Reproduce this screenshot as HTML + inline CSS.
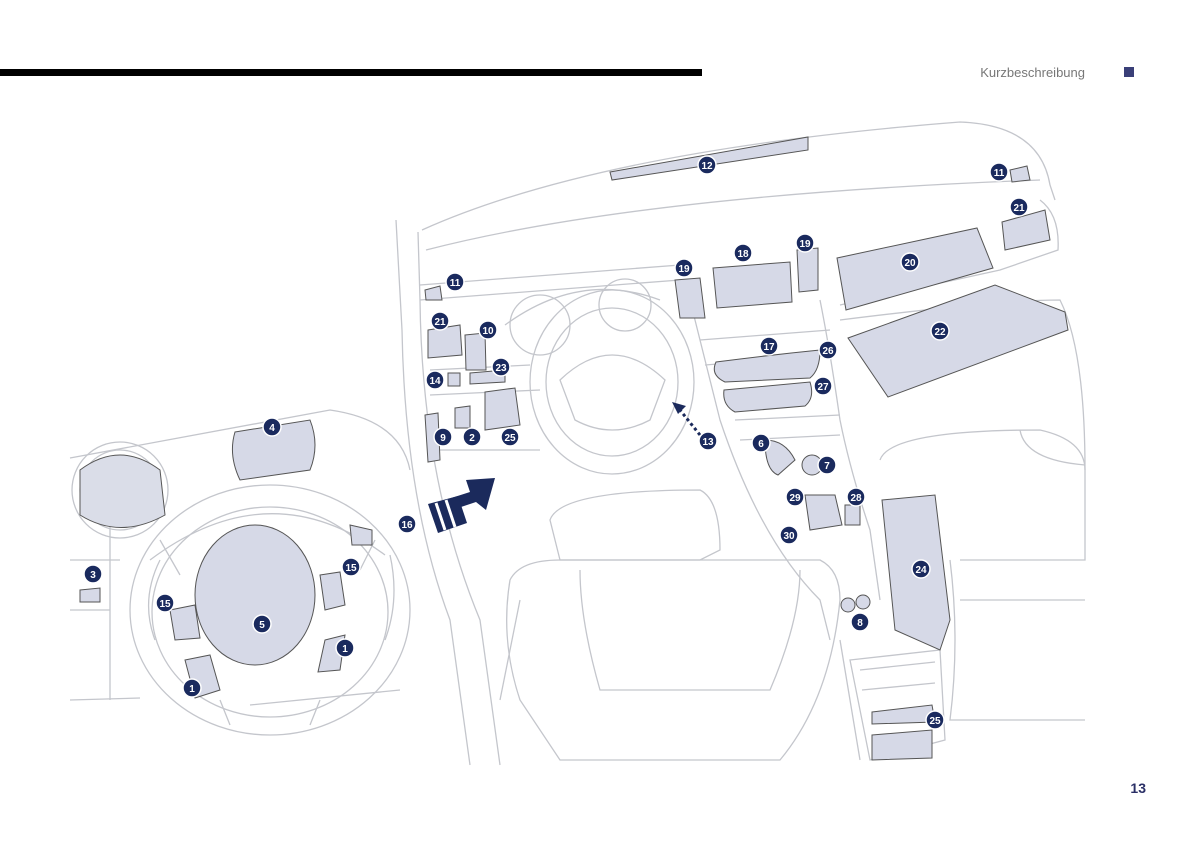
<!DOCTYPE html>
<html><head><meta charset="utf-8"><style>
body{margin:0;background:#fff;}
svg{display:block;font-family:"Liberation Sans",sans-serif;}
</style></head><body>
<svg width="1191" height="845" viewBox="0 0 1191 845" xmlns="http://www.w3.org/2000/svg">
<rect x="0" y="69" width="702" height="7" fill="#000"/>
<text x="1085" y="77" font-size="13" fill="#777" text-anchor="end">Kurzbeschreibung</text>
<rect x="1124" y="67" width="10" height="10" fill="#3a3f78"/>
<text x="1146" y="793" font-size="14" font-weight="bold" fill="#2a2f66" text-anchor="end">13</text>

<g fill="none" stroke="#c4c6cc" stroke-width="1.3">
<!-- dashboard top -->
<path d="M422 230 Q600 150 960 122 Q1040 125 1050 185 L1055 200"/>
<path d="M426 250 Q640 195 1040 180"/>
<path d="M396 220 L402 330 Q405 500 450 620 L470 765"/>
<path d="M418 232 L420 300 Q422 480 480 620 L500 765"/>
<path d="M420 285 L680 265 M420 300 L680 280"/>
<path d="M1040 200 Q1060 215 1058 250 L1000 270 L840 305"/>
<path d="M840 320 Q1000 300 1060 300 Q1085 350 1085 470"/>
<path d="M430 370 L530 365 M430 450 L540 450 M430 395 L540 390"/>
<!-- center console -->
<path d="M690 300 Q700 340 720 420 Q760 540 820 600 L830 640"/>
<path d="M820 300 Q830 350 840 420 Q850 470 870 530 L880 600"/>
<path d="M700 340 L830 330 M705 365 L830 355"/>
<path d="M735 420 L840 415 M740 440 L840 435"/>
<!-- instrument cluster -->
<path d="M505 325 Q580 270 660 300"/>
<circle cx="540" cy="325" r="30"/><circle cx="625" cy="305" r="26"/>
<!-- steering wheel small -->
<ellipse cx="612" cy="382" rx="82" ry="92"/>
<ellipse cx="612" cy="382" rx="66" ry="74"/>
<path d="M560 380 Q612 330 665 380 L650 420 Q612 440 575 420 Z"/>
<!-- seats -->
<path d="M550 520 Q560 490 700 490 Q720 500 720 550 L700 560 Q610 560 560 560 Z"/>
<path d="M510 580 Q500 640 520 700 L560 760 L780 760 Q830 700 840 600 Q840 570 820 560 L560 560 Q520 560 510 580Z"/>
<path d="M580 570 Q580 620 600 690 L770 690 Q800 620 800 570"/>
<path d="M880 460 Q890 430 1040 430 Q1085 440 1085 470 L1085 560 L960 560"/>
<path d="M950 560 Q960 640 950 720 L1085 720 M960 600 L1085 600"/>
<path d="M1020 430 Q1025 460 1085 465"/>
<path d="M520 600 Q510 650 500 700 M840 640 L860 760"/>
<!-- rear console -->
<path d="M850 660 L940 650 L945 740 L870 760 Z"/>
<path d="M860 670 L935 662 M862 690 L935 683"/>
<!-- left inset -->
<path d="M70 458 L330 410 Q400 420 410 470"/>
<path d="M70 700 L140 698 M250 705 L400 690"/>
<circle cx="120" cy="490" r="48"/><circle cx="120" cy="490" r="40"/>
<ellipse cx="270" cy="610" rx="140" ry="125"/>
<ellipse cx="270" cy="612" rx="118" ry="105"/>
<path d="M150 560 Q270 470 385 555 M160 540 L180 575 M375 540 L360 570"/>
<path d="M110 520 L110 700 M70 560 L120 560 M70 610 L110 610"/>
<path d="M160 560 Q140 600 155 640 M390 555 Q400 600 385 640"/>
<path d="M220 700 L230 725 M320 700 L310 725"/>
</g>
<!-- shaded parts -->
<g fill="#d6d9e7" stroke="#555" stroke-width="1">
<path d="M610 172 L808 137 L808 150 L612 180 Z"/>
<path d="M713 268 L790 262 L792 302 L717 308 Z"/>
<path d="M675 280 L700 278 L705 318 L680 318 Z"/>
<path d="M797 250 L818 248 L818 290 L799 292 Z"/>
<path d="M837 258 L977 228 L993 268 L846 310 Z"/>
<path d="M848 338 L995 285 L1065 312 L1068 330 L888 397 Z"/>
<path d="M1002 222 L1045 210 L1050 240 L1005 250 Z"/>
<path d="M1010 170 L1027 166 L1030 180 L1012 182 Z"/>
<path d="M716 362 Q770 355 820 350 Q820 370 810 378 L725 382 Q710 375 716 362Z"/>
<path d="M724 390 L810 382 Q815 398 805 406 L735 412 Q722 405 724 390Z"/>
<path d="M425 290 L440 286 L442 300 L426 300 Z"/>
<path d="M428 330 L460 325 L462 355 L428 358 Z"/>
<path d="M465 335 L485 333 L486 370 L466 370 Z"/>
<path d="M470 373 L505 370 L505 382 L470 384 Z"/>
<path d="M485 392 L515 388 L520 425 L485 430 Z"/>
<path d="M455 408 L470 406 L470 428 L455 428 Z"/>
<path d="M425 415 L438 413 L440 460 L428 462 Z"/>
<path d="M448 373 L460 373 L460 386 L448 386 Z"/>
<path d="M765 440 Q785 440 795 460 L778 475 Q765 470 765 440Z"/>
<circle cx="812" cy="465" r="10"/>
<path d="M805 495 L835 495 L842 525 L810 530 Z"/>
<path d="M845 505 L860 505 L860 525 L845 525 Z"/>
<path d="M882 500 L935 495 L950 620 L940 650 L895 630 Z"/>
<circle cx="848" cy="605" r="7"/><circle cx="863" cy="602" r="7"/>
<path d="M872 712 L932 705 L935 722 L872 724 Z"/>
<path d="M872 735 L932 730 L932 758 L872 760 Z"/>
<path d="M80 470 Q120 440 160 470 L165 515 Q120 540 80 515Z" fill="#dadde8"/>
<path d="M235 432 L310 420 Q320 445 310 470 L240 480 Q228 455 235 432Z"/>
<ellipse cx="255" cy="595" rx="60" ry="70"/>
<path d="M170 610 L195 605 L200 638 L175 640 Z"/>
<path d="M320 575 L340 572 L345 605 L325 610 Z"/>
<path d="M185 660 L210 655 L220 690 L195 698 Z"/>
<path d="M325 640 L345 635 L340 670 L318 672 Z"/>
<path d="M350 525 L372 530 L372 545 L352 545 Z"/>
<path d="M80 590 L100 588 L100 602 L80 602 Z"/>
</g>
<!-- big arrow -->
<g fill="#1b2a5c">
<path d="M445 500 L470 492 L466 480 L495 478 L486 510 L476 502 L452 510 Z"/>
</g>
<g stroke="#fff" stroke-width="2.5"><path d="M430 504 L440 532 M440 501 L450 529 M450 498 L460 526"/></g>
<path d="M428 504 L458 496 L467 523 L438 533 Z" fill="#1b2a5c"/>
<g stroke="#fff" stroke-width="3"><path d="M436 503 L445 530 M446 500 L455 527"/></g>
<path d="M700 435 L680 410" stroke="#1b2a5c" stroke-width="3" stroke-dasharray="3 3"/>
<path d="M672 402 L686 406 L678 414 Z" fill="#1b2a5c"/>
<!-- badges -->
<g font-size="10" font-weight="bold" fill="#fff" text-anchor="middle" stroke="none">
<g id="b">
</g>
</g>
<g stroke="#fff" stroke-width="1.5" fill="#1a2a5e">
<circle cx="707" cy="165" r="9"/><circle cx="999" cy="172" r="9"/><circle cx="1019" cy="207" r="9"/>
<circle cx="743" cy="253" r="9"/><circle cx="805" cy="243" r="9"/><circle cx="684" cy="268" r="9"/>
<circle cx="910" cy="262" r="9"/><circle cx="455" cy="282" r="9"/><circle cx="940" cy="331" r="9"/>
<circle cx="440" cy="321" r="9"/><circle cx="488" cy="330" r="9"/><circle cx="769" cy="346" r="9"/>
<circle cx="828" cy="350" r="9"/><circle cx="501" cy="367" r="9"/><circle cx="435" cy="380" r="9"/>
<circle cx="823" cy="386" r="9"/><circle cx="443" cy="437" r="9"/><circle cx="472" cy="437" r="9"/>
<circle cx="510" cy="437" r="9"/><circle cx="708" cy="441" r="9"/><circle cx="761" cy="443" r="9"/>
<circle cx="827" cy="465" r="9"/><circle cx="795" cy="497" r="9"/><circle cx="856" cy="497" r="9"/>
<circle cx="789" cy="535" r="9"/><circle cx="921" cy="569" r="9"/><circle cx="860" cy="622" r="9"/>
<circle cx="935" cy="720" r="9"/><circle cx="272" cy="427" r="9"/><circle cx="407" cy="524" r="9"/>
<circle cx="93" cy="574" r="9"/><circle cx="351" cy="567" r="9"/><circle cx="165" cy="603" r="9"/>
<circle cx="262" cy="624" r="9"/><circle cx="345" cy="648" r="9"/><circle cx="192" cy="688" r="9"/>
</g>
<g font-size="10" font-weight="bold" fill="#fff" text-anchor="middle">
<text x="707" y="169">12</text><text x="999" y="176">11</text><text x="1019" y="211">21</text>
<text x="743" y="257">18</text><text x="805" y="247">19</text><text x="684" y="272">19</text>
<text x="910" y="266">20</text><text x="455" y="286">11</text><text x="940" y="335">22</text>
<text x="440" y="325">21</text><text x="488" y="334">10</text><text x="769" y="350">17</text>
<text x="828" y="354">26</text><text x="501" y="371">23</text><text x="435" y="384">14</text>
<text x="823" y="390">27</text><text x="443" y="441">9</text><text x="472" y="441">2</text>
<text x="510" y="441">25</text><text x="708" y="445">13</text><text x="761" y="447">6</text>
<text x="827" y="469">7</text><text x="795" y="501">29</text><text x="856" y="501">28</text>
<text x="789" y="539">30</text><text x="921" y="573">24</text><text x="860" y="626">8</text>
<text x="935" y="724">25</text><text x="272" y="431">4</text><text x="407" y="528">16</text>
<text x="93" y="578">3</text><text x="351" y="571">15</text><text x="165" y="607">15</text>
<text x="262" y="628">5</text><text x="345" y="652">1</text><text x="192" y="692">1</text>
</g>
</svg>
</body></html>
